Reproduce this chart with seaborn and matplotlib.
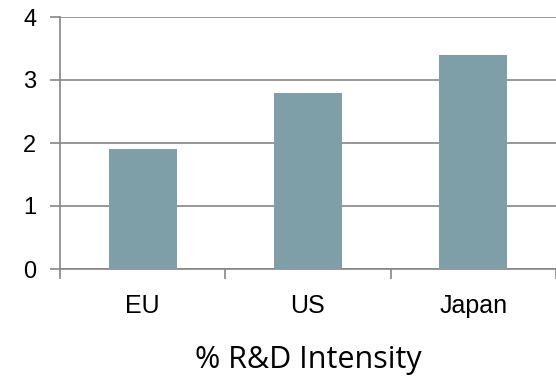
import matplotlib
matplotlib.use("Agg")
import matplotlib.pyplot as plt
import seaborn as sns
import pandas as pd
from matplotlib.ticker import FixedLocator

regions = ["EU", "US", "Japan"]
intensity = [1.9, 2.8, 3.4]
y_ticks = [0, 1, 2, 3, 4]
title_text = "% R&D Intensity"

df = pd.DataFrame({"region": regions, "intensity": intensity})

sns.set_theme(style="white")
plt.rcParams["font.family"] = ["Liberation Sans", "DejaVu Sans"]

grey = "#868686"
fig = plt.figure(figsize=(5.56, 3.79), dpi=100)
ax = fig.add_axes([60 / 556, 1 - 269 / 379, 1 - 60 / 556, (269 - 17) / 379])

sns.barplot(data=df, x="region", y="intensity", color="#7F9FA8",
            saturation=1, width=0.41, linewidth=0, ax=ax, zorder=3)

ax.set_xlim(-0.5, 2.5)
ax.set_ylim(0, 4)
ax.set_yticks(y_ticks)
ax.yaxis.grid(True, color=grey, linewidth=1.2, zorder=0)
ax.set_axisbelow(True)

for side in ["top", "right"]:
    ax.spines[side].set_visible(False)
for side in ["left", "bottom"]:
    ax.spines[side].set_color(grey)
    ax.spines[side].set_linewidth(1.2)

ax.tick_params(axis="y", which="major", left=True, length=7, width=1.2,
               color=grey, labelsize=17, pad=10, labelcolor="black")
ax.tick_params(axis="x", which="major", bottom=False, labelsize=18,
               pad=12, labelcolor="black")
ax.xaxis.set_minor_locator(FixedLocator([-0.5, 0.5, 1.5, 2.5]))
ax.tick_params(axis="x", which="minor", bottom=True, length=7, width=1.2,
               color=grey)
ax.set_xlabel("")
ax.set_ylabel("")

fig.text(308 / 556, 1 - 360 / 379, title_text, ha="center", va="center",
         fontsize=22, family=["Open Sans", "DejaVu Sans"], color="black")

fig.savefig("out.png", dpi=100)
